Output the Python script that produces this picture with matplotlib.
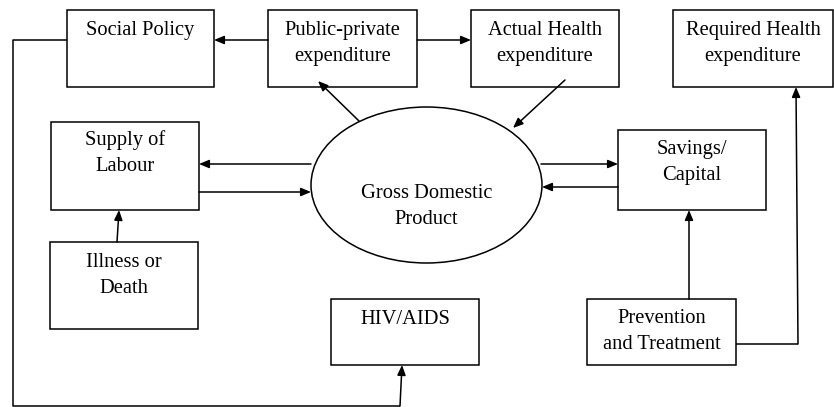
import matplotlib.pyplot as plt
from matplotlib.patches import Rectangle, Ellipse

# node labels
labels = ["Social Policy", "Public-private\nexpenditure", "Actual Health\nexpenditure",
          "Required Health\nexpenditure", "Supply of\nLabour", "Savings/\nCapital",
          "Illness or\nDeath", "HIV/AIDS", "Prevention\nand Treatment"]
# box x0, y0, x1, y1 (pixels, y down)
boxes = [(67, 10, 214, 87), (268, 10, 417, 87), (471, 10, 619, 87),
         (673, 10, 833, 87), (51, 122, 199, 210), (618, 130, 766, 210),
         (50, 242, 198, 329), (331, 299, 479, 365), (587, 299, 736, 365)]
# baseline of first text line
text_y = [35, 35, 35, 35, 145, 154, 267, 324, 323]
gdp_label = "Gross Domestic\nProduct"

fig = plt.figure(figsize=(8.34, 4.07), dpi=100)
ax = fig.add_axes([0, 0, 1, 1])
ax.set_xlim(0, 834)
ax.set_ylim(407, 0)
ax.axis("off")

font = dict(family="Liberation Serif", fontsize=14.8, color="black")
lw = 1.1
step = 26


def put_text(cx, y, txt):
    for i, ln in enumerate(txt.split("\n")):
        ax.text(cx, y + i * step, ln, ha="center", va="baseline", **font)


for lab, (x0, y0, x1, y1), ty in zip(labels, boxes, text_y):
    ax.add_patch(Rectangle((x0, y0), x1 - x0, y1 - y0, fill=False, ec="black", lw=lw))
    put_text((x0 + x1) / 2, ty, lab)

ax.add_patch(Ellipse((426.5, 185), 231, 156, fill=False, ec="black", lw=lw))
put_text(426.5, 198, gdp_label)


def arrow(x0, y0, x1, y1):
    ax.annotate("", xy=(x1, y1), xytext=(x0, y0),
                arrowprops=dict(arrowstyle="-|>,head_length=0.6,head_width=0.25",
                                color="black", lw=lw, shrinkA=0, shrinkB=0))


def line(xs, ys):
    ax.plot(xs, ys, color="black", lw=lw, solid_capstyle="butt")


arrow(268, 40, 214, 40)
arrow(417, 40, 471, 40)
arrow(359, 121, 318, 81)
arrow(565, 80, 513, 128)
arrow(311, 164, 199, 164)
arrow(199, 192, 311, 192)
arrow(541, 164, 618, 164)
arrow(618, 187, 542, 187)
arrow(117, 242, 119, 210)
arrow(689, 299, 689, 210)

# loop from social policy to HIV/AIDS
line([67, 13, 13, 400], [40, 40, 406, 406])
arrow(400, 406, 402, 365)

# prevention to required health
line([736, 798], [344, 344])
arrow(798, 344, 796, 87)

fig.savefig("out.png", dpi=100)
